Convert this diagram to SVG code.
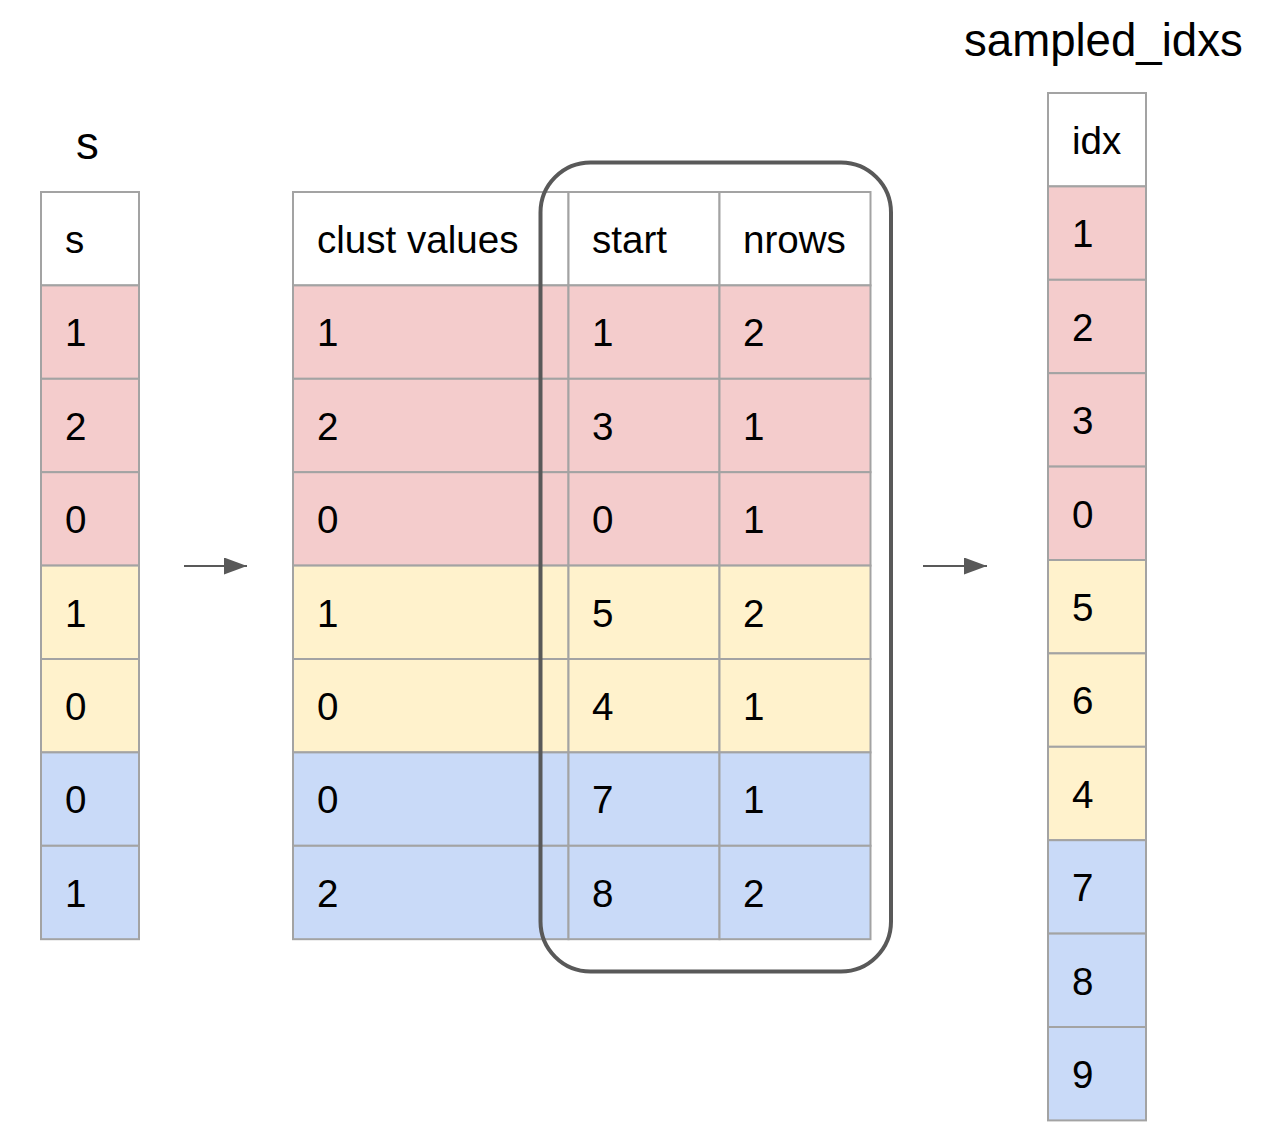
<svg xmlns="http://www.w3.org/2000/svg" width="1274" height="1148" viewBox="0 0 1274 1148">
<style>
.c{stroke:#a3a3a3;stroke-width:2}
.h{fill:#ffffff}
.r{fill:#f4cccc}
.y{fill:#fff2cc}
.b{fill:#c9daf8}
text{font-family:"Liberation Sans",Arial,sans-serif;fill:#000}
.t{font-size:38.6px}
.ti{font-size:45.6px}
.con{stroke:#595959;stroke-width:2;fill:none}
</style>
<defs>
<marker id="ah" markerWidth="24" markerHeight="18" refX="23" refY="8.5" orient="auto" markerUnits="userSpaceOnUse">
<path d="M0,0 L23,8.5 L0,17 Z" fill="#595959"/>
</marker>
</defs>
<rect width="1274" height="1148" fill="#ffffff"/>

<g id="title-s"><text class="ti" x="76" y="159">s</text></g>
<g id="title-sampled"><text class="ti" x="964" y="56">sampled_idxs</text></g>

<g id="table-s">
<rect class="c h" x="41" y="192" width="98" height="93.4"/>
<rect class="c r" x="41" y="285.4" width="98" height="93.4"/>
<rect class="c r" x="41" y="378.8" width="98" height="93.4"/>
<rect class="c r" x="41" y="472.2" width="98" height="93.4"/>
<rect class="c y" x="41" y="565.6" width="98" height="93.4"/>
<rect class="c y" x="41" y="659" width="98" height="93.4"/>
<rect class="c b" x="41" y="752.4" width="98" height="93.4"/>
<rect class="c b" x="41" y="845.8" width="98" height="93.4"/>
<text class="t" x="65" y="253">s</text>
<text class="t" x="65" y="346.4">1</text>
<text class="t" x="65" y="439.8">2</text>
<text class="t" x="65" y="533.2">0</text>
<text class="t" x="65" y="626.6">1</text>
<text class="t" x="65" y="720">0</text>
<text class="t" x="65" y="813.4">0</text>
<text class="t" x="65" y="906.8">1</text>
</g>

<g id="table-clust">
<g>
<rect class="c h" x="293" y="192" width="275.5" height="93.4"/>
<rect class="c r" x="293" y="285.4" width="275.5" height="93.4"/>
<rect class="c r" x="293" y="378.8" width="275.5" height="93.4"/>
<rect class="c r" x="293" y="472.2" width="275.5" height="93.4"/>
<rect class="c y" x="293" y="565.6" width="275.5" height="93.4"/>
<rect class="c y" x="293" y="659" width="275.5" height="93.4"/>
<rect class="c b" x="293" y="752.4" width="275.5" height="93.4"/>
<rect class="c b" x="293" y="845.8" width="275.5" height="93.4"/>
</g>
<g>
<rect class="c h" x="568.5" y="192" width="151" height="93.4"/>
<rect class="c r" x="568.5" y="285.4" width="151" height="93.4"/>
<rect class="c r" x="568.5" y="378.8" width="151" height="93.4"/>
<rect class="c r" x="568.5" y="472.2" width="151" height="93.4"/>
<rect class="c y" x="568.5" y="565.6" width="151" height="93.4"/>
<rect class="c y" x="568.5" y="659" width="151" height="93.4"/>
<rect class="c b" x="568.5" y="752.4" width="151" height="93.4"/>
<rect class="c b" x="568.5" y="845.8" width="151" height="93.4"/>
</g>
<g>
<rect class="c h" x="719.5" y="192" width="151" height="93.4"/>
<rect class="c r" x="719.5" y="285.4" width="151" height="93.4"/>
<rect class="c r" x="719.5" y="378.8" width="151" height="93.4"/>
<rect class="c r" x="719.5" y="472.2" width="151" height="93.4"/>
<rect class="c y" x="719.5" y="565.6" width="151" height="93.4"/>
<rect class="c y" x="719.5" y="659" width="151" height="93.4"/>
<rect class="c b" x="719.5" y="752.4" width="151" height="93.4"/>
<rect class="c b" x="719.5" y="845.8" width="151" height="93.4"/>
</g>
<text class="t" x="317" y="253">clust values</text>
<text class="t" x="592" y="253">start</text>
<text class="t" x="743" y="253">nrows</text>
<text class="t" x="317" y="346.4">1</text><text class="t" x="592" y="346.4">1</text><text class="t" x="743" y="346.4">2</text>
<text class="t" x="317" y="439.8">2</text><text class="t" x="592" y="439.8">3</text><text class="t" x="743" y="439.8">1</text>
<text class="t" x="317" y="533.2">0</text><text class="t" x="592" y="533.2">0</text><text class="t" x="743" y="533.2">1</text>
<text class="t" x="317" y="626.6">1</text><text class="t" x="592" y="626.6">5</text><text class="t" x="743" y="626.6">2</text>
<text class="t" x="317" y="720">0</text><text class="t" x="592" y="720">4</text><text class="t" x="743" y="720">1</text>
<text class="t" x="317" y="813.4">0</text><text class="t" x="592" y="813.4">7</text><text class="t" x="743" y="813.4">1</text>
<text class="t" x="317" y="906.8">2</text><text class="t" x="592" y="906.8">8</text><text class="t" x="743" y="906.8">2</text>
</g>

<g id="highlight">
<rect x="540.5" y="162.5" width="350.5" height="809" rx="50" ry="50" fill="none" stroke="#595959" stroke-width="4"/>
</g>

<g id="table-idx">
<rect class="c h" x="1048" y="93" width="98" height="93.4"/>
<rect class="c r" x="1048" y="186.4" width="98" height="93.4"/>
<rect class="c r" x="1048" y="279.8" width="98" height="93.4"/>
<rect class="c r" x="1048" y="373.2" width="98" height="93.4"/>
<rect class="c r" x="1048" y="466.6" width="98" height="93.4"/>
<rect class="c y" x="1048" y="560" width="98" height="93.4"/>
<rect class="c y" x="1048" y="653.4" width="98" height="93.4"/>
<rect class="c y" x="1048" y="746.8" width="98" height="93.4"/>
<rect class="c b" x="1048" y="840.2" width="98" height="93.4"/>
<rect class="c b" x="1048" y="933.6" width="98" height="93.4"/>
<rect class="c b" x="1048" y="1027" width="98" height="93.4"/>
<text class="t" x="1072" y="154">idx</text>
<text class="t" x="1072" y="247.4">1</text>
<text class="t" x="1072" y="340.8">2</text>
<text class="t" x="1072" y="434.2">3</text>
<text class="t" x="1072" y="527.6">0</text>
<text class="t" x="1072" y="621">5</text>
<text class="t" x="1072" y="714.4">6</text>
<text class="t" x="1072" y="807.8">4</text>
<text class="t" x="1072" y="901.2">7</text>
<text class="t" x="1072" y="994.6">8</text>
<text class="t" x="1072" y="1088">9</text>
</g>

<g id="connectors">
<line class="con" x1="184" y1="566" x2="247" y2="566" marker-end="url(#ah)"/>
<line class="con" x1="923" y1="566" x2="987" y2="566" marker-end="url(#ah)"/>
</g>
</svg>
